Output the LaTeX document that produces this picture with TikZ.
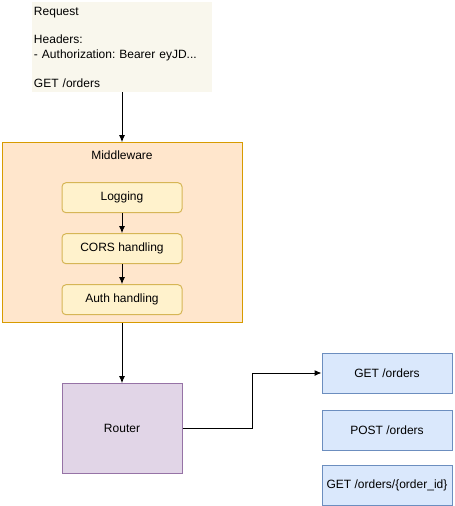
\documentclass[tikz,border=0pt]{standalone}
\usepackage{fontspec}
\setmainfont{Liberation Sans}
\frenchspacing
\usetikzlibrary{arrows.meta,positioning}
\definecolor{notefill}{HTML}{F9F7ED}
\definecolor{mwfill}{HTML}{FFE6CC}
\definecolor{mwline}{HTML}{D79B00}
\definecolor{stepfill}{HTML}{FFF2CC}
\definecolor{stepline}{HTML}{D6B656}
\definecolor{hubfill}{HTML}{E1D5E7}
\definecolor{hubline}{HTML}{9673A6}
\definecolor{routefill}{HTML}{DAE8FC}
\definecolor{routeline}{HTML}{6C8EBF}
\tikzset{line/.style={draw, line width=1pt, -{Latex[length=7pt,width=6pt]}}}

\begin{document}
\begin{tikzpicture}[x=1pt, y=-1pt, node distance = 20pt, auto, font=\fontsize{12}{14.4}\selectfont]
\tikzstyle{note} = [rectangle, fill=notefill, text width=176pt, align=left, inner sep=2pt, minimum width=180pt, minimum height=90pt]
\tikzstyle{group} = [rectangle, draw=mwline, fill=mwfill, line width=1pt, minimum width=240pt, minimum height=180pt]
\tikzstyle{block} = [rectangle, rounded corners=4pt, draw=stepline, fill=stepfill, line width=1pt, minimum width=120pt, minimum height=30pt]
\tikzstyle{rect} = [rectangle, draw=hubline, fill=hubfill, line width=1pt, minimum width=120pt, minimum height=90pt]
\tikzstyle{route} = [rectangle, draw=routeline, fill=routefill, line width=1pt, minimum width=130pt, minimum height=40pt]

\useasboundingbox (0,0) rectangle (455,506);

\node [note] (request) at (122,47) {Request\\[14.4pt]Headers:\\- Authorization: Bearer eyJD...\\[14.4pt]GET /orders};
\node [group, below=50pt of request, label={[anchor=north, yshift=-5pt]north:Middleware}] (middleware) {};
\node [block, below=40pt of middleware.north](logging){Logging};
\node [block, below=of logging](cors){CORS handling};
\node [block, below=of cors](auth){Auth handling};
\node [rect, below=60pt of middleware](router){Router};
\node [route] (getorders) at (387,373) {GET /orders};
\node [route, below=16pt of getorders](postorders){POST /orders};
\node [route, below=14pt of postorders](getorder){GET /orders/\{order\_id\}};


\path [line] (request) -- (middleware);
\path [line] (logging) -- (cors);
\path [line] (cors) -- (auth);
\path [line] (middleware) -- (router);
\path [line] (router.east) -- ++(70,0) |- (getorders.west);


\end{tikzpicture}
\end{document}
